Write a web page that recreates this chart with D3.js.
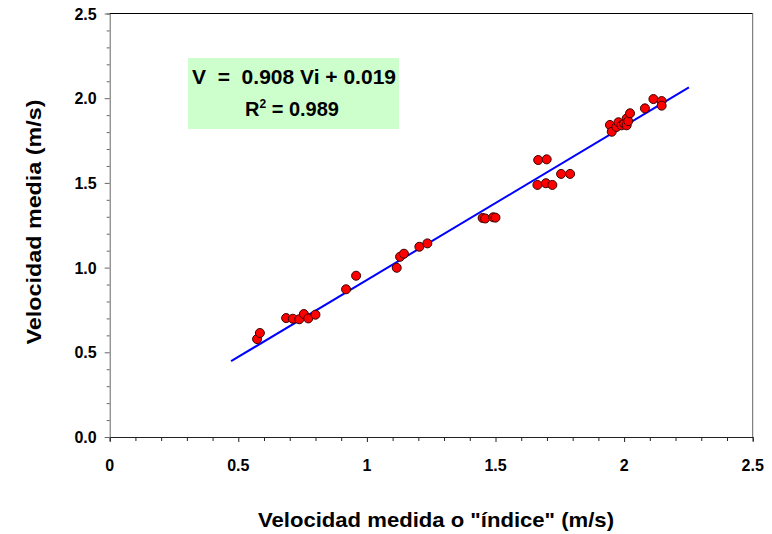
<!DOCTYPE html>
<html>
<head>
<meta charset="utf-8">
<script src="https://cdn.jsdelivr.net/npm/d3@7"></script>
<style>
  body { margin: 0; background: #fff; }
  svg { display: block; font-family: Arial, "Liberation Sans", sans-serif; }
</style>
</head>
<body>
<svg id="chart" width="772" height="534"></svg>
<script>
// measured "index" velocity vs mean velocity (m/s)
var xValues = [0.573, 0.584, 0.686, 0.712, 0.737, 0.755, 0.772, 0.800,
               0.919, 0.958, 1.116, 1.129, 1.144, 1.204, 1.235,
               1.450, 1.460, 1.491, 1.500, 1.666, 1.699, 1.663, 1.696, 1.721, 1.755, 1.790,
               1.945, 1.952, 1.970, 1.978, 1.990, 2.000, 2.010, 2.010, 2.016, 2.023,
               2.081, 2.114, 2.146, 2.146];
var yValues = [0.578, 0.614, 0.702, 0.698, 0.695, 0.726, 0.700, 0.722,
               0.872, 0.952, 0.999, 1.064, 1.082, 1.123, 1.143,
               1.293, 1.290, 1.297, 1.295, 1.635, 1.639, 1.488, 1.498, 1.488, 1.553, 1.553,
               1.842, 1.802, 1.830, 1.858, 1.840, 1.850, 1.880, 1.840, 1.865, 1.911,
               1.940, 1.995, 1.983, 1.956];
var slope = 0.908, intercept = 0.019;
var fitRange = [0.472, 2.252];
var xTicks = [0, 0.5, 1, 1.5, 2, 2.5];
var xTickLabels = ["0", "0.5", "1", "1.5", "2", "2.5"];
var yTicks = [0, 0.5, 1, 1.5, 2, 2.5];
var yTickLabels = ["0.0", "0.5", "1.0", "1.5", "2.0", "2.5"];

var svg = d3.select("#chart");
var plotLeft = 109.7, plotRight = 752.7, plotTop = 13.5, plotBottom = 437;

var x = d3.scaleLinear().domain([0, 2.5]).range([plotLeft, plotRight]);
var y = d3.scaleLinear().domain([0, 2.5]).range([plotBottom, plotTop]);

// frame
svg.append("line").attr("x1", plotLeft).attr("x2", plotRight).attr("y1", plotTop).attr("y2", plotTop)
   .attr("stroke", "#000").attr("stroke-width", 1);
svg.append("line").attr("x1", plotRight).attr("x2", plotRight).attr("y1", plotTop).attr("y2", plotBottom)
   .attr("stroke", "#666").attr("stroke-width", 1);

// bottom axis
var gx = svg.append("g").attr("transform", "translate(0," + plotBottom + ")");
gx.call(d3.axisBottom(x).tickValues(d3.range(0, 2.51, 0.1)).tickSize(4).tickFormat(""));
gx.selectAll(".tick line").filter(function (d) { return Math.abs(d * 2 - Math.round(d * 2)) < 1e-6; })
  .attr("y2", 5);
gx.select(".domain").attr("stroke", "#222");
gx.selectAll(".tick line").attr("stroke", "#222");
gx.selectAll(".tickLabel").data(xTicks).enter().append("text")
  .attr("x", function (d) { return x(d); })
  .attr("y", 34)
  .attr("fill", "#000")
  .attr("text-anchor", "middle")
  .attr("font-family", "Arial, 'Liberation Sans', sans-serif")
  .attr("font-size", "16px").attr("font-weight", "bold")
  .text(function (d, i) { return xTickLabels[i]; });

// left axis
var gy = svg.append("g").attr("transform", "translate(" + plotLeft + ",0)");
gy.call(d3.axisLeft(y).tickValues(d3.range(0, 2.51, 0.1)).tickSize(3).tickFormat(""));
gy.selectAll(".tick line").filter(function (d) { return Math.abs(d * 2 - Math.round(d * 2)) < 1e-6; })
  .attr("x2", -5);
gy.select(".domain").attr("stroke", "#666");
gy.selectAll(".tick line").attr("stroke", "#666");
gy.selectAll(".tickLabel").data(yTicks).enter().append("text")
  .attr("x", -13)
  .attr("y", function (d) { return y(d) + 6; })
  .attr("fill", "#000")
  .attr("text-anchor", "end")
  .attr("font-family", "Arial, 'Liberation Sans', sans-serif")
  .attr("font-size", "16px").attr("font-weight", "bold")
  .text(function (d, i) { return yTickLabels[i]; });

// regression line
svg.append("line")
   .attr("x1", x(fitRange[0])).attr("y1", y(slope * fitRange[0] + intercept))
   .attr("x2", x(fitRange[1])).attr("y2", y(slope * fitRange[1] + intercept))
   .attr("stroke", "#0000ff").attr("stroke-width", 2);

// points
svg.append("g").selectAll("circle").data(xValues).enter().append("circle")
   .attr("cx", function (d) { return x(d); })
   .attr("cy", function (d, i) { return y(yValues[i]); })
   .attr("r", 4.5)
   .attr("fill", "#ff0000")
   .attr("stroke", "#3a0000").attr("stroke-width", 1);

// equation box
svg.append("rect").attr("x", 188).attr("y", 58).attr("width", 211).attr("height", 71)
   .attr("fill", "#ccffcc");
svg.append("text").attr("x", 192).attr("y", 84)
   .attr("font-size", "20px").attr("font-weight", "bold")
   .attr("textLength", 204).attr("lengthAdjust", "spacingAndGlyphs")
   .attr("xml:space", "preserve")
   .text("V  =  0.908 Vi + 0.019");
var r2 = svg.append("text").attr("x", 245).attr("y", 116)
   .attr("font-size", "20px").attr("font-weight", "bold");
r2.append("tspan").text("R");
r2.append("tspan").attr("dy", -8).attr("font-size", "12px").text("2");
r2.append("tspan").attr("dy", 8).text(" = 0.989");

// axis titles
svg.append("text").attr("x", 436).attr("y", 527)
   .attr("text-anchor", "middle")
   .attr("font-size", "21px").attr("font-weight", "bold")
   .attr("textLength", 356).attr("lengthAdjust", "spacingAndGlyphs")
   .text("Velocidad medida o \"índice\" (m/s)");
svg.append("text")
   .attr("transform", "translate(41,222) rotate(-90)")
   .attr("text-anchor", "middle")
   .attr("font-size", "21px").attr("font-weight", "bold")
   .attr("textLength", 245).attr("lengthAdjust", "spacingAndGlyphs")
   .text("Velocidad media (m/s)");
</script>
</body>
</html>
